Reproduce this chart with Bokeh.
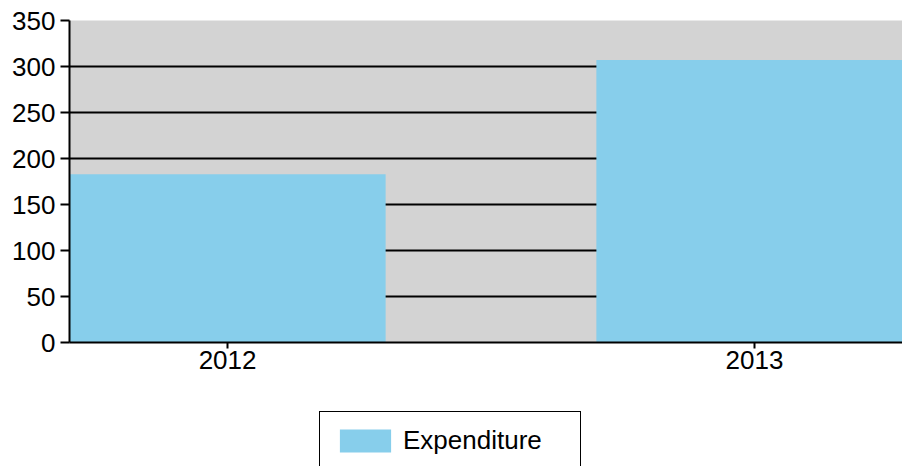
from bokeh.plotting import figure
from bokeh.layouts import column
from bokeh.models import Range1d, FixedTicker, Legend, LegendItem, ColumnDataSource
from bokeh.embed import file_html
from bokeh.resources import INLINE

# Data
years = ["2012", "2013"]
expenditure = [183, 307]
y_ticks = [0, 50, 100, 150, 200, 250, 300, 350]
series_name = "Expenditure"

xpos = [i + 0.5 for i in range(len(years))]
src = ColumnDataSource(dict(x=xpos, top=expenditure))

FONT = "Liberation Sans"
BAR = "#87ceeb"

p = figure(width=902, height=390, output_backend="svg", toolbar_location=None,
           x_range=Range1d(0.2, 1.781), y_range=Range1d(0, 350),
           min_border_left=69, min_border_right=0, min_border_top=20,
           min_border_bottom=48)
p.background_fill_color = "#d3d3d3"
p.border_fill_color = "white"
p.outline_line_color = None

r = p.vbar(x="x", top="top", width=0.6, source=src, fill_color=BAR,
           line_color=None)

# Axes
p.xaxis.ticker = FixedTicker(ticks=xpos)
p.xaxis.major_label_overrides = {x: y for x, y in zip(xpos, years)}
p.yaxis.ticker = FixedTicker(ticks=y_ticks)
for ax in (p.xaxis, p.yaxis):
    ax.axis_line_color = "black"
    ax.axis_line_width = 2
    ax.major_tick_line_color = "black"
    ax.major_tick_line_width = 2
    ax.minor_tick_line_color = None
    ax.major_label_text_font = FONT
    ax.major_label_text_font_size = "26px"
    ax.major_label_text_color = "black"
p.yaxis.major_tick_out = 9
p.yaxis.major_tick_in = 0
p.yaxis.major_label_standoff = 5
p.xaxis.major_tick_out = 6
p.xaxis.major_tick_in = 0
p.xaxis.major_label_standoff = 2

p.xgrid.grid_line_color = None
p.ygrid.grid_line_color = "black"
p.ygrid.grid_line_width = 2
p.ygrid.ticker = FixedTicker(ticks=y_ticks)

# Legend figure below the chart (its swatch renderer sits outside the view)
lg = figure(width=902, height=76, output_backend="svg", toolbar_location=None,
            x_range=Range1d(0, 1), y_range=Range1d(0, 1),
            min_border=0, x_axis_location=None, y_axis_location=None)
lg.outline_line_color = None
lg.grid.grid_line_color = None
lg.background_fill_color = "white"
swatch = lg.vbar(x=[5], top=[1], width=0.6, fill_color=BAR, line_color=None)

legend = Legend(items=[LegendItem(label=series_name, renderers=[swatch])],
                location=(250, -4), orientation="horizontal",
                glyph_width=64, glyph_height=29, label_width=164, label_height=23,
                label_standoff=6, padding=13, margin=0,
                label_text_font=FONT, label_text_font_size="26px",
                label_text_color="black",
                border_line_color="black", border_line_width=1.5,
                border_line_alpha=1.0,
                background_fill_color="white", background_fill_alpha=1)
lg.add_layout(legend, "center")

layout = column(p, lg, spacing=0)
open("out.html", "w").write(file_html(layout, INLINE))
